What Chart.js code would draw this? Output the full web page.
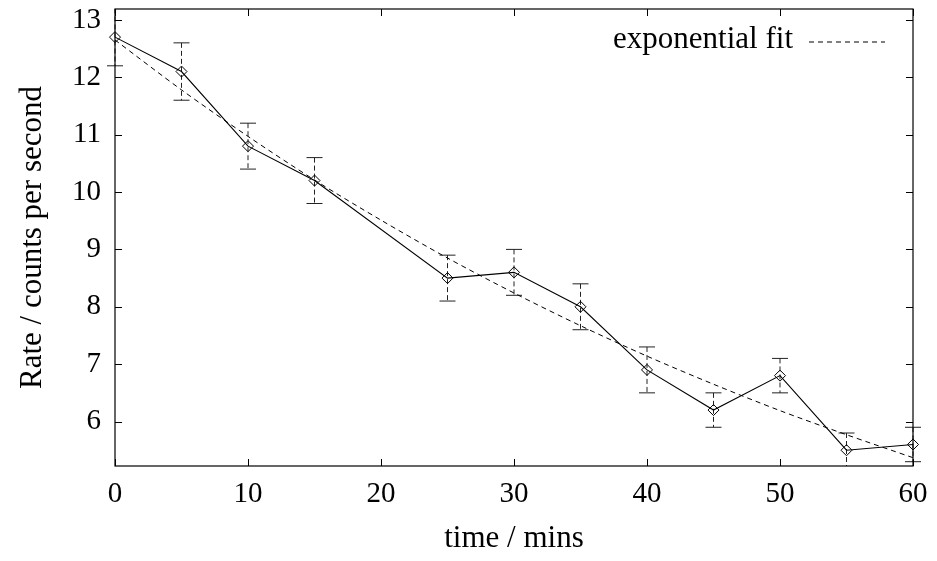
<!DOCTYPE html>
<html>
<head>
<meta charset="utf-8">
<script src="https://cdn.jsdelivr.net/npm/chart.js@4/dist/chart.umd.min.js"></script>
<style>
html,body{margin:0;padding:0;background:#fff;}
canvas{display:block;}
</style>
</head>
<body>
<canvas id="c" width="937" height="561"></canvas>
<script>
// Measured data
const times = [0, 5, 10, 15, 25, 30, 35, 40, 45, 50, 55, 60];
const rates = [12.7, 12.1, 10.8, 10.2, 8.5, 8.6, 8.0, 6.9, 6.2, 6.8, 5.5, 5.6];
const rateErrors = [0.5, 0.5, 0.4, 0.4, 0.4, 0.4, 0.4, 0.4, 0.3, 0.3, 0.3, 0.3];
// Exponential fit curve
const fitTimes = [0, 5, 10, 15, 20, 25, 30, 35, 40, 45, 50, 55, 60];
const fitRates = [12.65, 11.78, 10.97, 10.21, 9.51, 8.85, 8.24, 7.67, 7.14, 6.65, 6.19, 5.77, 5.37];
// Axis ticks
const xTicks = [0, 10, 20, 30, 40, 50, 60];
const yTicks = [6, 7, 8, 9, 10, 11, 12, 13];
const xTitle = 'time / mins';
const yTitle = 'Rate / counts per second';
const fitLabel = 'exponential fit';

const FONT = "'Liberation Serif', 'Times New Roman', serif";
const FS = 29;
const FS_TITLE = 31;

const framePlugin = {
  id: 'frame',
  beforeDatasetsDraw(chart) {
    const {ctx, chartArea: a, scales: {x, y}} = chart;
    const ds = chart.data.datasets[0];
    ctx.save();
    ctx.beginPath();
    ctx.rect(0, a.top, chart.width, a.bottom - a.top);
    ctx.clip();
    ctx.strokeStyle = '#222';
    ctx.lineWidth = 1;
    ds.data.forEach((p, i) => {
      const px = x.getPixelForValue(p.x);
      const yHi = y.getPixelForValue(p.y + rateErrors[i]);
      const yLo = y.getPixelForValue(p.y - rateErrors[i]);
      ctx.setLineDash([5, 3]);
      ctx.beginPath();
      ctx.moveTo(px, yHi);
      ctx.lineTo(px, yLo);
      ctx.stroke();
      ctx.setLineDash([]);
      ctx.beginPath();
      ctx.moveTo(px - 8, yHi); ctx.lineTo(px + 8, yHi);
      ctx.moveTo(px - 8, yLo); ctx.lineTo(px + 8, yLo);
      ctx.stroke();
    });
    ctx.restore();
  },
  afterDraw(chart) {
    const {ctx, chartArea: a, scales: {x, y}} = chart;
    ctx.save();
    ctx.strokeStyle = '#000';
    ctx.lineWidth = 1.2;
    ctx.setLineDash([]);
    ctx.strokeRect(a.left, a.top, a.right - a.left, a.bottom - a.top);
    const tl = 7;
    ctx.lineWidth = 1;
    ctx.beginPath();
    xTicks.forEach(v => {
      const px = Math.round(x.getPixelForValue(v)) + 0.5;
      ctx.moveTo(px, a.bottom); ctx.lineTo(px, a.bottom - tl);
      ctx.moveTo(px, a.top); ctx.lineTo(px, a.top + tl);
    });
    yTicks.forEach(v => {
      const py = Math.round(y.getPixelForValue(v)) + 0.5;
      ctx.moveTo(a.left, py); ctx.lineTo(a.left + tl, py);
      ctx.moveTo(a.right, py); ctx.lineTo(a.right - tl, py);
    });
    ctx.stroke();
    // legend (gnuplot style: text then sample)
    const fit = chart.data.datasets[1];
    ctx.fillStyle = '#000';
    ctx.font = FS_TITLE + 'px ' + FONT;
    ctx.textAlign = 'right';
    ctx.textBaseline = 'middle';
    ctx.fillText(fit.label, a.right - 120, a.top + 31);
    ctx.setLineDash(fit.borderDash);
    ctx.lineWidth = fit.borderWidth;
    ctx.beginPath();
    ctx.moveTo(a.right - 104, a.top + 33);
    ctx.lineTo(a.right - 28, a.top + 33);
    ctx.stroke();
    ctx.restore();
  }
};

new Chart(document.getElementById('c'), {
  type: 'scatter',
  data: {
    datasets: [
      {
        label: 'data',
        data: times.map((t, i) => ({x: t, y: rates[i]})),
        showLine: true,
        borderColor: '#000',
        borderWidth: 1.1,
        pointStyle: 'rectRot',
        pointRadius: 5.5,
        pointBorderWidth: 1,
        pointBorderColor: '#000',
        pointBackgroundColor: 'rgba(0,0,0,0)',
        clip: false
      },
      {
        label: fitLabel,
        data: fitTimes.map((t, i) => ({x: t, y: fitRates[i]})),
        showLine: true,
        borderColor: '#000',
        borderWidth: 1,
        borderDash: [5, 4],
        pointRadius: 0,
        tension: 0.3,
        clip: false
      }
    ]
  },
  options: {
    responsive: false,
    animation: false,
    devicePixelRatio: 1,
    layout: {padding: {top: 9, right: 24, left: 0, bottom: 0}},
    plugins: {legend: {display: false}, tooltip: {enabled: false}},
    scales: {
      x: {
        type: 'linear', min: 0, max: 60,
        grid: {display: false, drawTicks: false},
        border: {display: false},
        afterBuildTicks: s => { s.ticks = xTicks.map(v => ({value: v})); },
        afterFit: s => { s.height = 95; s.paddingLeft = 0; s.paddingRight = 0; },
        ticks: {color: '#000', padding: 11, font: {family: FONT, size: FS}, maxRotation: 0},
        title: {display: true, text: xTitle, color: '#000', font: {family: FONT, size: FS_TITLE}, padding: {bottom: 4}}
      },
      y: {
        type: 'linear', min: 5.225, max: 13.19,
        grid: {display: false, drawTicks: false},
        border: {display: false},
        afterBuildTicks: s => { s.ticks = yTicks.map(v => ({value: v})); },
        afterFit: s => { s.width = 115; s.paddingTop = 0; s.paddingBottom = 0; },
        ticks: {color: '#000', padding: 14, font: {family: FONT, size: FS}},
        title: {display: true, text: yTitle, color: '#000', font: {family: FONT, size: FS_TITLE}, padding: {top: 14}}
      }
    }
  },
  plugins: [framePlugin]
});
</script>
</body>
</html>
